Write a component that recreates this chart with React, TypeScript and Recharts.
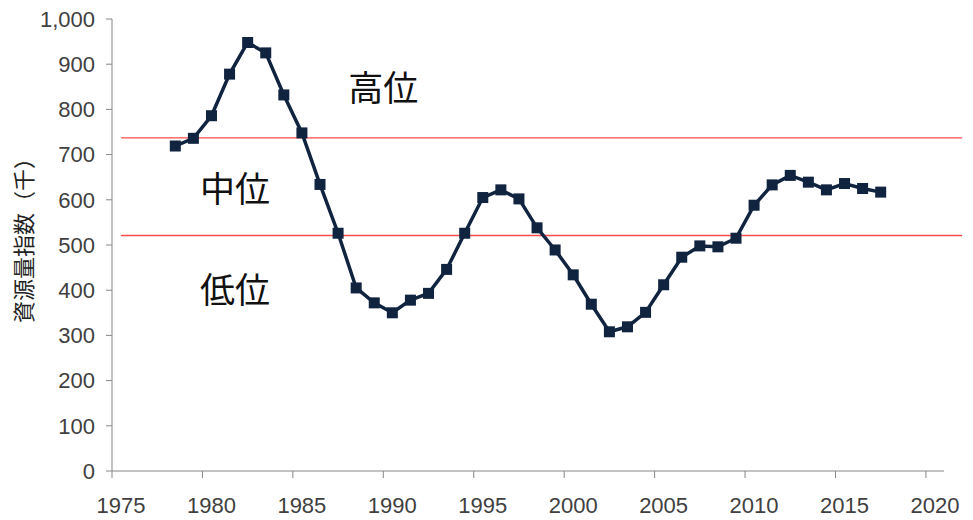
import React from 'react';
import { LineChart, Line, XAxis, YAxis, ReferenceLine, ReferenceDot } from 'recharts';

// 資源量指数 (千), by year
const years = [
  1978, 1979, 1980, 1981, 1982, 1983, 1984, 1985, 1986, 1987,
  1988, 1989, 1990, 1991, 1992, 1993, 1994, 1995, 1996, 1997,
  1998, 1999, 2000, 2001, 2002, 2003, 2004, 2005, 2006, 2007,
  2008, 2009, 2010, 2011, 2012, 2013, 2014, 2015, 2016, 2017,
];
const index = [
  719, 736, 786, 878, 948, 925, 832, 748, 634, 526,
  405, 372, 350, 378, 393, 446, 526, 605, 622, 602,
  538, 489, 434, 369, 308, 319, 351, 412, 473, 498,
  496, 515, 588, 633, 654, 639, 622, 636, 625, 617,
];

const xTicks = [1975, 1980, 1985, 1990, 1995, 2000, 2005, 2010, 2015, 2020];
const yTicks = [0, 100, 200, 300, 400, 500, 600, 700, 800, 900, 1000];

// level thresholds (high / middle / low)
const thresholds = [737, 521];

const levelLabels = [
  { text: '高位', x: 1990, y: 847 },
  { text: '中位', x: 1981.8, y: 622 },
  { text: '低位', x: 1981.8, y: 400 },
];

// points sit mid-year on the axis
const data = years.map((y, i) => ({ x: y + 0.5, value: index[i] }));

const navy = '#10243f';
const axisGray = '#868686';
const red = '#ff4d4d';
const numFont = '"Liberation Sans", Arial, sans-serif';
const jpFont = '"Noto Sans CJK JP", "Noto Sans", sans-serif';

const SquareDot = (props: any) => {
  const { cx, cy } = props;
  if (cx == null || cy == null) return null;
  return <rect x={cx - 5.5} y={cy - 5.5} width={11} height={11} fill={navy} />;
};

const XTick = (props: any) => {
  const { x, y, payload } = props;
  return (
    <text x={x + 9} y={y} dy="0.71em" textAnchor="middle" fontSize={22} fill="#404040" fontFamily={numFont}>
      {payload.value}
    </text>
  );
};

const RedLine = (props: any) => {
  const { x1, y1, x2, y2 } = props;
  return <line x1={x1} y1={y1} x2={x2} y2={y2} stroke={red} strokeWidth={1.3} />;
};

const App = () => {
  return (
    <div style={{ position: 'absolute', left: 0, top: 0, background: '#fff' }}>
      <LineChart
        width={973}
        height={520}
        data={data}
        margin={{ top: 19, right: 29, bottom: 9, left: 0 }}
      >
        <XAxis
          type="number"
          dataKey="x"
          domain={[1975, 2021]}
          ticks={xTicks}
          height={40}
          tickSize={7}
          tickMargin={19}
          tick={<XTick />}
          stroke={axisGray}
          allowDecimals={false}
        />
        <YAxis
          type="number"
          domain={[0, 1000]}
          ticks={yTicks}
          width={112}
          tickSize={6}
          tickMargin={11}
          tick={{ fontSize: 22, fill: '#404040', fontFamily: numFont }}
          stroke={axisGray}
          tickFormatter={(v) => v.toLocaleString('en-US')}
          label={{
            content: (p: any) => {
              const vb = p.viewBox;
              const cx = vb.x + 22;
              const cy = vb.y + vb.height / 2 - 10;
              return (
                <text
                  x={cx}
                  y={cy}
                  transform={`rotate(-90, ${cx}, ${cy})`}
                  textAnchor="middle"
                  dominantBaseline="central"
                  fontSize={22}
                  fontFamily={jpFont}
                  fill="#222"
                >
                  資源量指数（千）
                </text>
              );
            },
          }}
        />
        {thresholds.map((t) => (
          <ReferenceLine
            key={`th-${t}`}
            segment={[{ x: 1975.5, y: t }, { x: 2022, y: t }]}
            stroke={red}
            ifOverflow="visible"
            shape={<RedLine />}
          />
        ))}
        {levelLabels.map((l) => (
          <ReferenceDot
            key={l.text}
            x={l.x}
            y={l.y}
            r={0}
            stroke="none"
            fill="none"
            label={{
              value: l.text,
              position: 'center',
              fontSize: 35,
              fill: '#111',
              fontFamily: jpFont,
            }}
          />
        ))}
        <Line
          type="linear"
          dataKey="value"
          stroke={navy}
          strokeWidth={3.5}
          dot={<SquareDot />}
          activeDot={false}
          isAnimationActive={false}
        />
      </LineChart>
    </div>
  );
};

export default App;
